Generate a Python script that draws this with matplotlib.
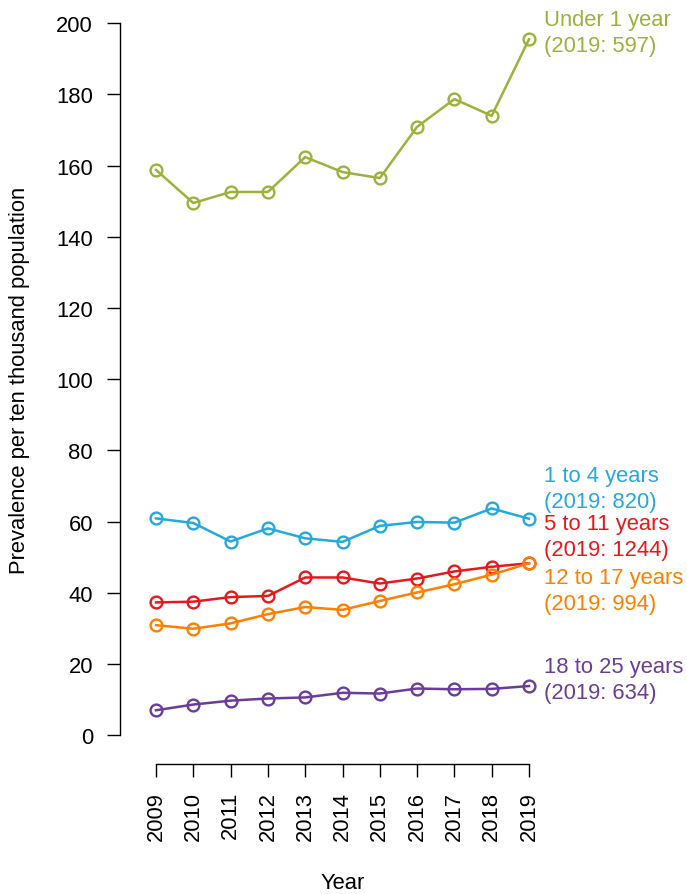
import matplotlib
matplotlib.use('Agg')
import matplotlib.pyplot as plt

plt.rcParams['font.family'] = ['Liberation Sans', 'DejaVu Sans']

years = list(range(2009, 2020))

under_1 = [158.8, 149.5, 152.6, 152.6, 162.4, 158.2, 156.5, 170.9, 178.7, 174.0, 195.5]
age_1_4 = [60.9, 59.6, 54.4, 58.1, 55.3, 54.3, 58.8, 59.9, 59.7, 63.7, 60.8]
age_5_11 = [37.3, 37.5, 38.8, 39.1, 44.3, 44.3, 42.6, 44.0, 46.0, 47.3, 48.3]
age_12_17 = [30.9, 29.9, 31.4, 34.0, 36.0, 35.2, 37.7, 40.1, 42.4, 45.1, 48.3]
age_18_25 = [7.0, 8.6, 9.7, 10.3, 10.6, 11.9, 11.7, 13.1, 12.9, 13.0, 13.8]

group_names = ['Under 1 year', '1 to 4 years', '5 to 11 years', '12 to 17 years', '18 to 25 years']
counts_2019 = [597, 820, 1244, 994, 634]

series = [under_1, age_1_4, age_5_11, age_12_17, age_18_25]
colors = ['#9CB23D', '#25A9DC', '#E31A1C', '#FF7F00', '#6A3D9A']
# vertical centre of each end label, nudged apart so they don't collide
label_y = [197.3, 69.2, 55.8, 40.7, 15.6]

W, H = 687, 895
fig = plt.figure(figsize=(W / 100, H / 100), dpi=100)
ax = fig.add_axes([120 / W, 1 - 765 / H, 445 / W, 755 / H])

for vals, col in zip(series, colors):
    ax.plot(years, vals, color=col, lw=1.8, marker='o', ms=8.5,
            mfc='none', mec=col, mew=1.7, clip_on=False, zorder=3)

for name, n, col, ly in zip(group_names, counts_2019, colors, label_y):
    ax.text(2019.4, ly, f'{name}\n(2019: {n})', color=col, fontsize=15.8,
            ha='left', va='center', linespacing=1.32, clip_on=False)

ax.set_xlim(2008.035, 2019.965)
ax.set_ylim(-8.1, 204)

for side in ['top', 'right']:
    ax.spines[side].set_visible(False)
ax.spines['left'].set_bounds(0, 200)
ax.spines['bottom'].set_bounds(2009, 2019)
for side in ['left', 'bottom']:
    ax.spines[side].set_linewidth(1.0)

ax.set_yticks(range(0, 201, 20))
ax.set_xticks(years)
ax.set_xticklabels([str(y) for y in years], rotation=90)
ax.tick_params(axis='both', direction='out', length=9.5, width=1.0,
               labelsize=15.8, pad=10)

fig.text(20 / W, 1 - 380 / H, 'Prevalence per ten thousand population',
         rotation=90, ha='center', va='center', fontsize=15.8)
fig.text(343 / W, 1 - 884 / H, 'Year', ha='center', va='center', fontsize=15.8)

fig.savefig('out.png', dpi=100, facecolor='white')
